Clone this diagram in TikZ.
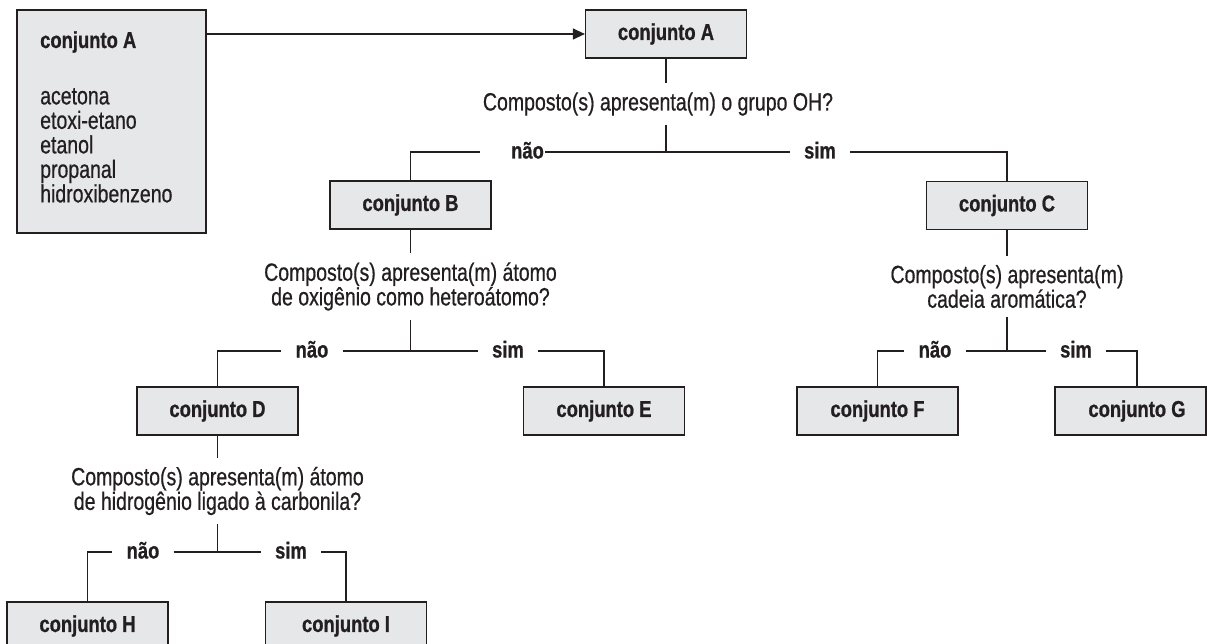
\documentclass[tikz,border=0pt]{standalone}
\usepackage{fontspec}
\setmainfont{Liberation Sans}[FakeStretch=0.78, FakeBold=0.6, BoldFeatures={FakeStretch=0.80, FakeBold=0.8}]
\usetikzlibrary{arrows.meta}
\definecolor{ink}{HTML}{231F20}
\definecolor{boxfill}{HTML}{E6E7E8}
\begin{document}
\begin{tikzpicture}[x=1pt,y=-1pt,
  box/.style={draw=ink, fill=boxfill, line width=1.2pt, minimum width=161pt, minimum height=48pt, inner sep=0pt, font=\fontsize{23}{24}\selectfont\bfseries, text=ink},
  question/.style={align=center, font=\fontsize{25}{23.5}\selectfont, text=ink, inner xsep=0pt, inner ysep=0pt, outer ysep=9pt},
  answer/.style={font=\fontsize{23}{24}\selectfont\bfseries, text=ink, inner xsep=14pt, inner ysep=0pt, anchor=base},
  link/.style={draw=ink, line width=1.2pt}]
\useasboundingbox (0,0) rectangle (1207,644);
\clip (0,0) rectangle (1207,644);

% source box
\node[box, minimum width=189pt, minimum height=223pt] (src) at (111.5,121.5) {};
\node[anchor=base west, font=\fontsize{23}{24}\selectfont\bfseries, text=ink, inner sep=0pt] (srctitle) at (40,48) {conjunto A};
\node[anchor=north west, align=left, font=\fontsize{25}{24.5}\selectfont, text=ink, inner sep=0pt] (srclist) at (40,88) {acetona\\etoxi-etano\\etanol\\propanal\\hidroxibenzeno};

% boxes
\node[box] (A) at (666,34) {conjunto A};
\node[box] (B) at (410.5,205) {conjunto B};
\node[box] (C) at (1007,205.5) {conjunto C};
\node[box] (D) at (217.5,411) {conjunto D};
\node[box] (E) at (604,411) {conjunto E};
\node[box] (F) at (877.5,411) {conjunto F};
\node[box, minimum width=151pt] (G) at (1130.5,411) {\hspace*{13pt}conjunto G};
\node[box] (H) at (87.5,626) {conjunto H};
\node[box] (I) at (346,626) {conjunto I};

% questions
\node[question] (q1) at (658,104) {Composto(s) apresenta(m) o grupo OH?};
\node[question] (q2) at (410.5,286.5) {Composto(s) apresenta(m) átomo\\de oxigênio como heteroátomo?};
\node[question] (q3) at (1007,286.5) {Composto(s) apresenta(m)\\cadeia aromática?};
\node[question] (q4) at (217.5,491) {Composto(s) apresenta(m) átomo\\de hidrogênio ligado à carbonila?};

% answers (baseline 6.5pt below the branch line)
\node[answer] (n1) at (527.5,158.5) {não};
\node[answer] (s1) at (820,158.5) {sim};
\node[answer] (n2) at (312,357.5) {não};
\node[answer] (s2) at (508,357.5) {sim};
\node[answer] (n3) at (935,357.5) {não};
\node[answer] (s3) at (1076,357.5) {sim};
\node[answer] (n4) at (143,558.5) {não};
\node[answer] (s4) at (291,558.5) {sim};

% arrow
\draw[link, -{Triangle[length=12pt,width=11pt]}] (src.east |- A.west) -- (A.west);

% level 1
\draw[link] (A.south) -- (A.south |- q1.north);
\draw[link] (A.south |- q1.south) -- ([yshift=6.5pt]A.south |- n1.base);
\draw[link] (B.north) |- ([xshift=-17pt,yshift=6.5pt]n1.base west);
\draw[link] ([xshift=-13pt,yshift=6.5pt]n1.base east) -- ([yshift=6.5pt]s1.base west);
\draw[link] ([yshift=6.5pt]s1.base east) -| (C.north);

% level 2 (B)
\draw[link] (B.south) -- (B.south |- q2.north);
\draw[link] (B.south |- q2.south) -- ([yshift=6.5pt]B.south |- n2.base);
\draw[link] (D.north) |- ([yshift=6.5pt]n2.base west);
\draw[link] ([yshift=6.5pt]n2.base east) -- ([yshift=6.5pt]s2.base west);
\draw[link] ([yshift=6.5pt]s2.base east) -| (E.north);

% level 2 (C)
\draw[link] (C.south) -- (C.south |- q3.north);
\draw[link] (C.south |- q3.south) -- ([yshift=6.5pt]C.south |- n3.base);
\draw[link] (F.north) |- ([yshift=6.5pt]n3.base west);
\draw[link] ([yshift=6.5pt]n3.base east) -- ([yshift=6.5pt]s3.base west);
\draw[link] ([yshift=6.5pt]s3.base east) -| ([xshift=6.5pt]G.north);

% level 3 (D)
\draw[link] (D.south) -- (D.south |- q4.north);
\draw[link] (D.south |- q4.south) -- ([yshift=6.5pt]D.south |- n4.base);
\draw[link] (H.north) |- ([yshift=6.5pt]n4.base west);
\draw[link] ([yshift=6.5pt]n4.base east) -- ([yshift=6.5pt]s4.base west);
\draw[link] ([yshift=6.5pt]s4.base east) -| (I.north);
\end{tikzpicture}
\end{document}
